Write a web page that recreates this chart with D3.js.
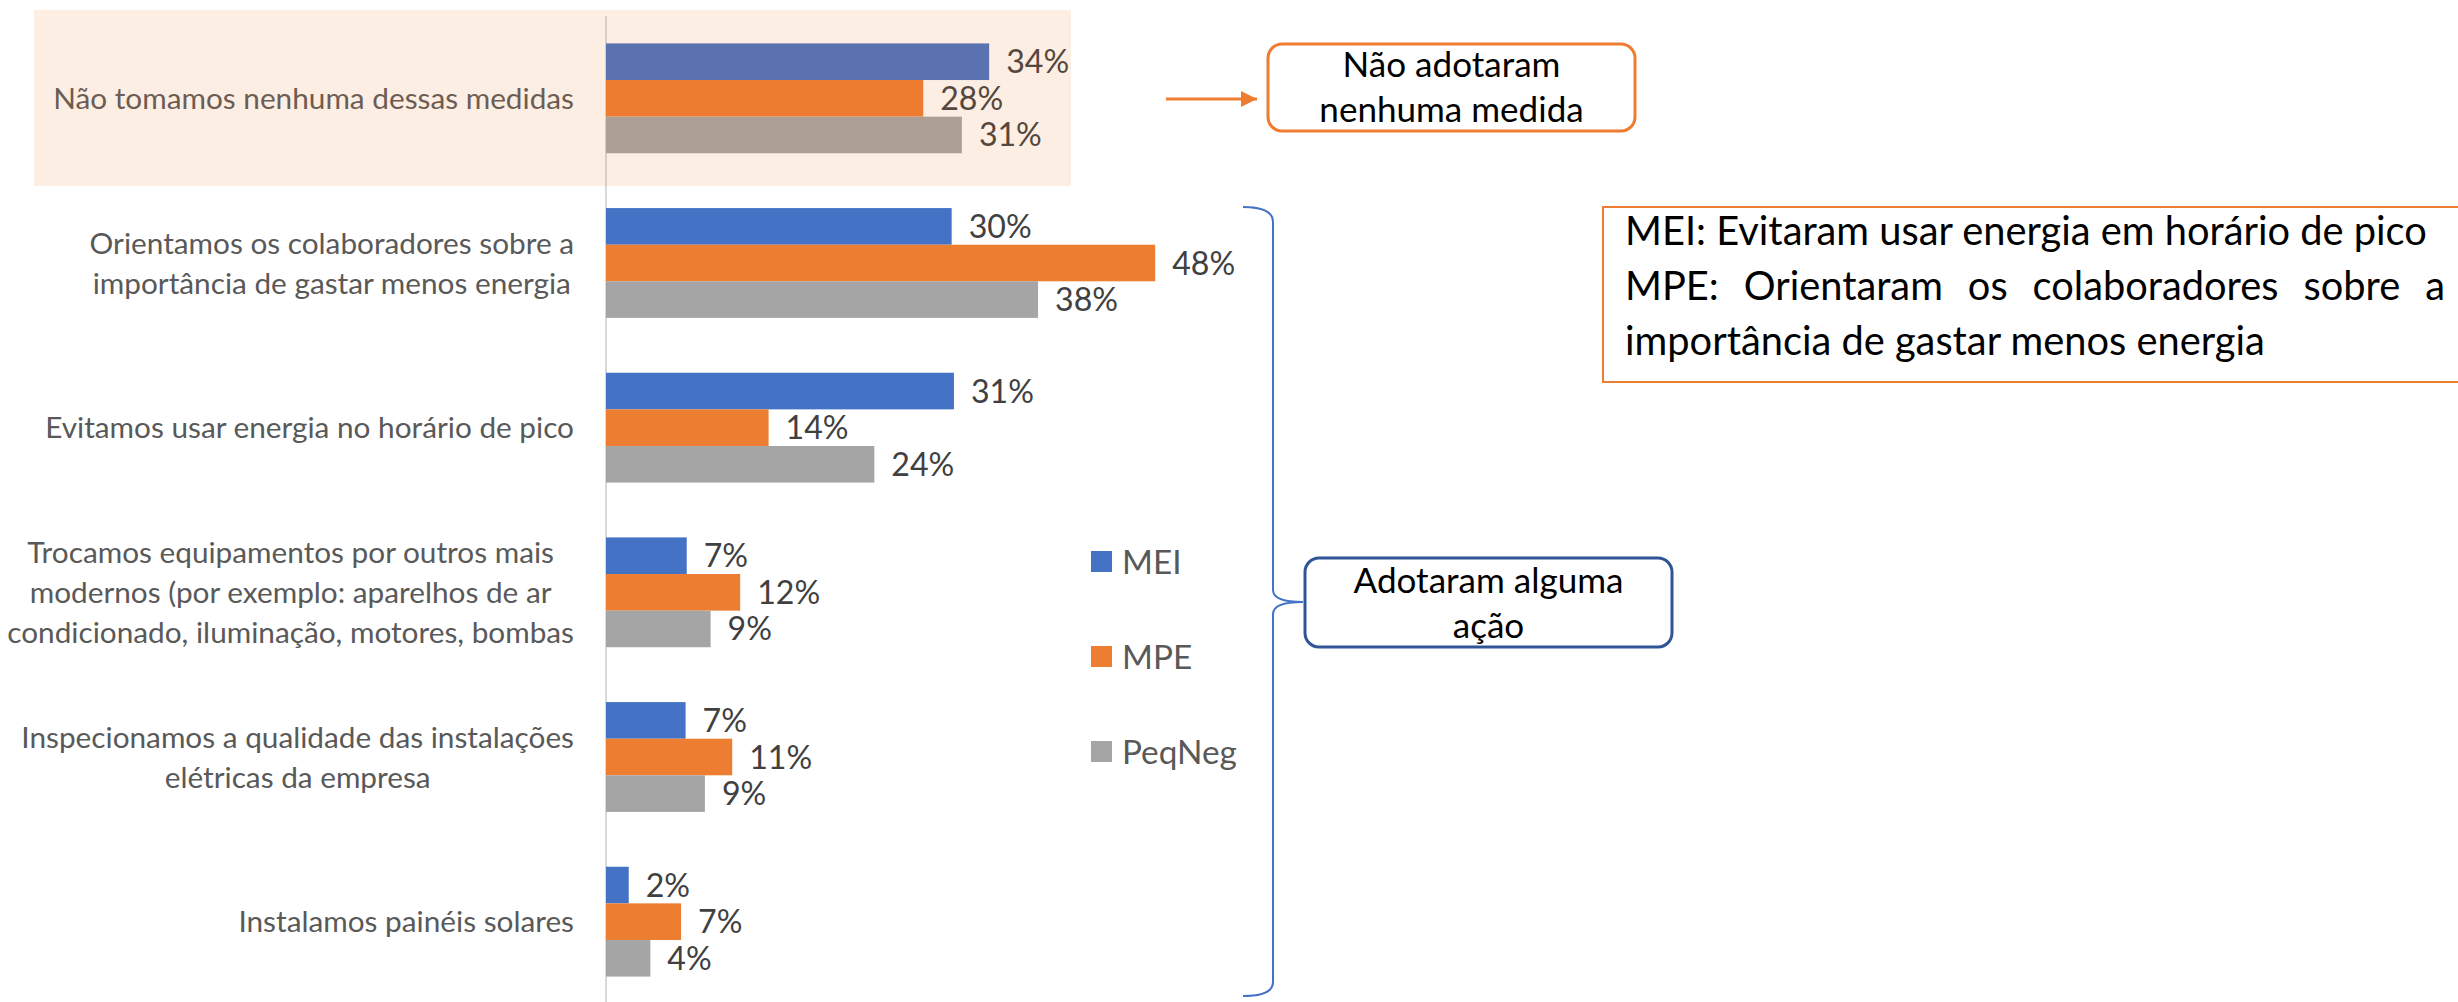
<!DOCTYPE html>
<html>
<head>
<meta charset="utf-8">
<script src="https://cdn.jsdelivr.net/npm/d3@7"></script>
<style>
  body { margin: 0; background: #fff; }
  svg { display: block; }
  text { font-family: Lato, "Liberation Sans", sans-serif; }
</style>
</head>
<body>
<div id="chart"></div>
<script>
// data
var categories = [
  ["Não tomamos nenhuma dessas medidas"],
  ["Orientamos os colaboradores sobre a", "importância de gastar menos energia"],
  ["Evitamos usar energia no horário de pico"],
  ["Trocamos equipamentos por outros mais", "modernos (por exemplo: aparelhos de ar", "condicionado, iluminação, motores, bombas"],
  ["Inspecionamos a qualidade das instalações", "elétricas da empresa"],
  ["Instalamos painéis solares"]
];
var series = ["MEI", "MPE", "PeqNeg"];
var mei    = [0.337, 0.304, 0.306, 0.071, 0.070, 0.020];
var mpe    = [0.279, 0.483, 0.143, 0.118, 0.111, 0.066];
var peqneg = [0.313, 0.380, 0.236, 0.092, 0.087, 0.039];
var colors = ["#4472C4", "#ED7D31", "#A5A5A5"];

var noteNone = ["Não adotaram", "nenhuma medida"];
var noteSome = ["Adotaram alguma", "ação"];
var noteMei = "MEI: Evitaram usar energia em horário de pico";
var noteMpe = ["MPE: Orientaram os colaboradores sobre a", "importância de gastar menos energia"];

var width = 2458, height = 1002;
var values = [mei, mpe, peqneg];
var keys = categories.map(function(c) { return c.join(" "); });

var svg = d3.select("#chart").append("svg")
    .attr("width", width)
    .attr("height", height);

// pick a font size so a string spans the same width as in the picture
function fit(txt, target) {
  var t = svg.append("text").style("font-size", "100px").text(txt);
  var w = t.node().getComputedTextLength();
  t.remove();
  return 100 * target / w;
}
function textWidth(txt, size) {
  var t = svg.append("text").style("font-size", size + "px").text(txt);
  var w = t.node().getComputedTextLength();
  t.remove();
  return w;
}

var catSize = fit(categories[0][0], 521),
    valSize = fit("28%", 63),
    legSize = fit("PeqNeg", 115),
    boxSize = fit(noteSome[0], 270),
    noteSize = fit(noteMei, 802);

var y = d3.scaleBand()
    .domain(keys)
    .range([16, 1004])
    .paddingInner(0.333)
    .paddingOuter(0.1665);
var ySeries = d3.scaleBand()
    .domain(series)
    .range([0, y.bandwidth()]);
var x = d3.scaleLinear()
    .domain([0, 0.5])
    .range([606, 606 + 568.5]);

// axis line
svg.append("line")
    .attr("x1", x(0)).attr("x2", x(0))
    .attr("y1", 16).attr("y2", height)
    .attr("stroke", "#D9D9D9")
    .attr("stroke-width", 2);

var groups = svg.selectAll("g.cat")
    .data(keys)
    .enter().append("g")
    .attr("class", "cat")
    .attr("transform", function(d) { return "translate(0," + y(d) + ")"; });

groups.each(function(d, i) {
  var g = d3.select(this);
  series.forEach(function(s, j) {
    var v = values[j][i];
    g.append("rect")
        .attr("x", x(0))
        .attr("y", ySeries(s))
        .attr("width", x(v) - x(0))
        .attr("height", ySeries.bandwidth())
        .attr("fill", colors[j]);
    g.append("text")
        .attr("x", x(v) + 17)
        .attr("y", ySeries(s) + ySeries.bandwidth() / 2)
        .attr("dy", "0.36em")
        .style("font-size", valSize + "px")
        .style("fill", "#404040")
        .text(Math.round(v * 100) + "%");
  });

  // category label: lines centred in a block that is right-aligned
  var lines = categories[i];
  var maxW = d3.max(lines, function(l) { return textWidth(l, catSize); });
  var lh = 40;
  var cy = y.bandwidth() / 2;
  g.append("text")
      .attr("text-anchor", "middle")
      .style("font-size", catSize + "px")
      .style("fill", "#595959")
    .selectAll("tspan")
    .data(lines)
    .enter().append("tspan")
      .attr("x", 574 - maxW / 2)
      .attr("y", function(l, k) { return cy + (k - (lines.length - 1) / 2) * lh; })
      .attr("dy", "0.36em")
      .text(function(l) { return l; });
});

// peach highlight over the first group
svg.append("rect")
    .attr("x", 34).attr("y", 10)
    .attr("width", 1071 - 34).attr("height", 176)
    .attr("fill", "#ED7D31")
    .attr("fill-opacity", 0.13);

// legend
var legend = svg.selectAll("g.legend")
    .data(series)
    .enter().append("g")
    .attr("class", "legend")
    .attr("transform", function(d, i) { return "translate(1091," + (551 + i * 95) + ")"; });
legend.append("rect")
    .attr("width", 21).attr("height", 21)
    .attr("fill", function(d, i) { return colors[i]; });
legend.append("text")
    .attr("x", 31).attr("y", 10.5)
    .attr("dy", "0.36em")
    .style("font-size", legSize + "px")
    .style("fill", "#595959")
    .text(function(d) { return d; });

// arrow + "não adotaram" box
svg.append("defs").append("marker")
    .attr("id", "head")
    .attr("viewBox", "0 0 10 10")
    .attr("refX", 10).attr("refY", 5)
    .attr("markerUnits", "userSpaceOnUse")
    .attr("markerWidth", 16).attr("markerHeight", 16)
    .attr("orient", "auto")
  .append("path")
    .attr("d", "M0,0 L10,5 L0,10 z")
    .attr("fill", "#ED7D31");
svg.append("line")
    .attr("x1", 1166).attr("y1", 99)
    .attr("x2", 1257).attr("y2", 99)
    .attr("stroke", "#ED7D31")
    .attr("stroke-width", 3)
    .attr("marker-end", "url(#head)");

function roundBox(x0, y0, x1, y1, stroke, lines, base, gap) {
  svg.append("rect")
      .attr("x", x0).attr("y", y0)
      .attr("width", x1 - x0).attr("height", y1 - y0)
      .attr("rx", 14)
      .attr("fill", "#fff")
      .attr("stroke", stroke)
      .attr("stroke-width", 3);
  svg.append("text")
      .attr("text-anchor", "middle")
      .style("font-size", boxSize + "px")
      .style("fill", "#000")
    .selectAll("tspan")
    .data(lines)
    .enter().append("tspan")
      .attr("x", (x0 + x1) / 2)
      .attr("y", function(d, k) { return base + k * gap; })
      .text(function(d) { return d; });
}
roundBox(1268, 44, 1635, 131, "#ED7D31", noteNone, 77, 45);

// brace for the groups that did something
svg.append("path")
    .attr("d", "M1243,207 Q1273,207 1273,222 L1273,590 Q1273,602 1303,602 Q1273,602 1273,614 L1273,982 Q1273,996 1243,996")
    .attr("fill", "none")
    .attr("stroke", "#4472C4")
    .attr("stroke-width", 2);
roundBox(1305, 558, 1672, 647, "#2F5597", noteSome, 593, 45);

// explanation box on the right
svg.append("rect")
    .attr("x", 1603).attr("y", 207)
    .attr("width", 900).attr("height", 175)
    .attr("fill", "#fff")
    .attr("stroke", "#ED7D31")
    .attr("stroke-width", 2);
svg.append("text")
    .attr("x", 1625).attr("y", 245)
    .style("font-size", noteSize + "px")
    .style("fill", "#000")
    .text(noteMei);
// justified line
var words = noteMpe[0].split(" ");
var ww = words.map(function(w) { return textWidth(w, noteSize); });
var gap = (2445 - 1625 - d3.sum(ww)) / (words.length - 1);
var cx = 1625;
var jt = svg.append("text").style("font-size", noteSize + "px").style("fill", "#000");
words.forEach(function(w, k) {
  jt.append("tspan").attr("x", cx).attr("y", 300).text(w);
  cx += ww[k] + gap;
});
svg.append("text")
    .attr("x", 1625).attr("y", 355)
    .style("font-size", noteSize + "px")
    .style("fill", "#000")
    .text(noteMpe[1]);
</script>
</body>
</html>
